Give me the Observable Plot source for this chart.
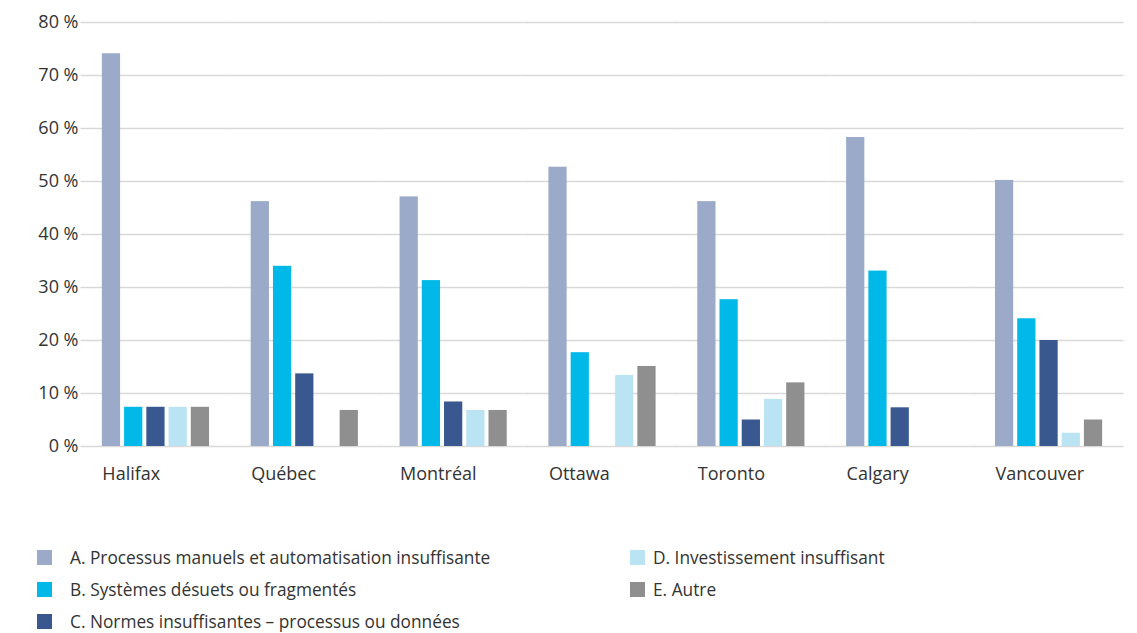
<!DOCTYPE html>
<html>
<head>
<meta charset="utf-8">
<script src="https://cdn.jsdelivr.net/npm/d3@7"></script>
<script src="https://cdn.jsdelivr.net/npm/@observablehq/plot@0.6"></script>
<style>
  body { margin: 0; background: #fff; font-family: "Open Sans", sans-serif; color: #333; }
  #chart svg { display: block; }
  #legend {
    display: grid;
    grid-auto-flow: column;
    grid-template-rows: repeat(3, 32px);
    grid-template-columns: 593px auto;
    margin: 41px 0 0 37px;
    font-size: 17.3px;
  }
  .item { display: flex; align-items: center; }
  .swatch { width: 15px; height: 15px; margin-right: 18px; flex: none; }
  .item.second .swatch { margin-right: 8px; }
</style>
</head>
<body>
<div id="chart"></div>
<div id="legend"></div>
<script>
// Cities along the horizontal axis
const cities = ["Halifax", "Québec", "Montréal", "Ottawa", "Toronto", "Calgary", "Vancouver"];

// Obstacle categories (legend order)
const series = [
  "A. Processus manuels et automatisation insuffisante",
  "B. Systèmes désuets ou fragmentés",
  "C. Normes insuffisantes – processus ou données",
  "D. Investissement insuffisant",
  "E. Autre"
];
const colors = ["#9BAAC9", "#00B9E8", "#38588F", "#BAE4F4", "#8F8F8F"];

// Share of respondents (%) per city, one array per category
const valuesA = [74.1, 46.2, 47.1, 52.7, 46.2, 58.3, 50.2];
const valuesB = [7.4, 34.0, 31.3, 17.7, 27.7, 33.1, 24.1];
const valuesC = [7.4, 13.7, 8.4, 0, 5.0, 7.3, 20.0];
const valuesD = [7.4, 0, 6.8, 13.4, 8.9, 0, 2.5];
const valuesE = [7.4, 6.8, 6.8, 15.1, 12.0, 0, 5.0];

// Y axis ticks
const yTicks = [0, 10, 20, 30, 40, 50, 60, 70, 80];

const seriesValues = [valuesA, valuesB, valuesC, valuesD, valuesE];
const rows = cities.flatMap((city, i) =>
  series.map((s, j) => ({ city, series: s, value: seriesValues[j][i] }))
);

// Facet spacing. The y axis and the gridlines are drawn relative to the
// first facet, so they are pushed back out to the plot's left edge.
const width = 1137, marginLeft = 84, marginRight = 17;
const fxPadInner = 0.28, fxPadOuter = 0.12;
const fxStep = (width - marginLeft - marginRight) / (cities.length - fxPadInner + 2 * fxPadOuter);
const outerGap = fxStep * fxPadOuter;
const innerHalfGap = fxStep * fxPadInner / 2;

const chart = Plot.plot({
  width,
  height: 500,
  marginLeft,
  marginRight,
  marginTop: 22,
  marginBottom: 54,
  style: { fontFamily: "Open Sans, sans-serif", fontSize: "17px", color: "#333", background: "#fff" },
  fx: { domain: cities, paddingInner: fxPadInner, paddingOuter: fxPadOuter, round: false, axis: null },
  x: { domain: series, paddingInner: 0.18, paddingOuter: 0, round: false, axis: null },
  y: { domain: [0, 80], label: null },
  color: { domain: series, range: colors },
  marks: [
    // gridlines: each facet's segment reaches into the gaps on both sides
    Plot.ruleY(yTicks, {
      stroke: "#d9d9d9",
      strokeWidth: 1.5,
      insetLeft: -innerHalfGap - 0.5,
      insetRight: -innerHalfGap - 0.5
    }),
    Plot.axisY({
      ticks: yTicks,
      tickFormat: d => `${d}\u00a0%`,
      tickSize: 0,
      tickPadding: outerGap + 6,
      fontSize: 18,
      fill: "#333",
      label: null
    }),
    Plot.barY(rows.filter(d => d.value > 0), { fx: "city", x: "series", y: "value", fill: "series" }),
    Plot.text(cities, {
      fx: d => d,
      text: d => d,
      frameAnchor: "bottom-left",
      textAnchor: "start",
      dy: 33,
      fontSize: 18,
      fill: "#333"
    })
  ]
});
document.getElementById("chart").appendChild(chart);

// Legend: three rows per column, filled column by column
const legend = document.getElementById("legend");
series.forEach((s, j) => {
  const item = document.createElement("div");
  item.className = j < 3 ? "item" : "item second";
  const sw = document.createElement("span");
  sw.className = "swatch";
  sw.style.background = colors[j];
  const label = document.createElement("span");
  label.textContent = s;
  item.append(sw, label);
  legend.appendChild(item);
});
</script>
</body>
</html>
